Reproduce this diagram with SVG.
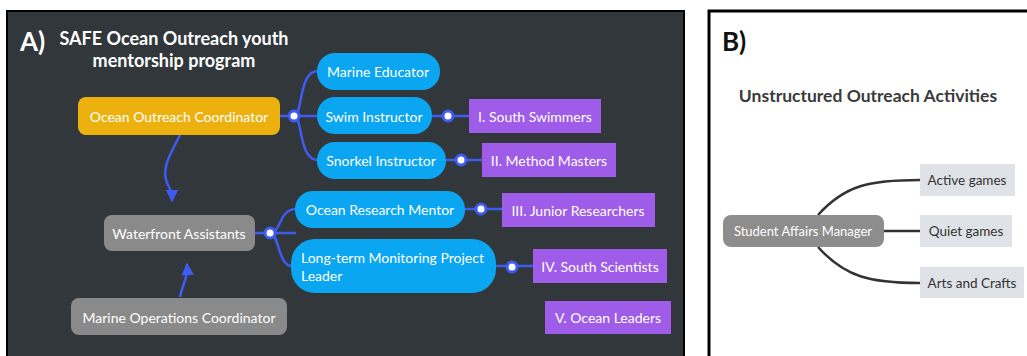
<svg xmlns="http://www.w3.org/2000/svg" width="1027" height="356" viewBox="0 0 1027 356">
<style>
text{font-family:Lato,"Noto Sans","Liberation Sans",sans-serif;}
.t{font-size:14px;fill:#ffffff;text-anchor:middle;dominant-baseline:central;}
.pill{fill:#0aa6f2;}
.purp{fill:#9e5ce8;}
.grey{fill:#8a8a8a;}
.bl{fill:none;stroke:#3f5cf2;stroke-width:2.5;}
.dot{fill:#ffffff;stroke:#3f5cf2;stroke-width:3;}
.dk{fill:none;stroke:#333333;stroke-width:2.5;}
.lb{fill:#dfe3e8;}
.tb{font-size:13.5px;fill:#333333;text-anchor:middle;dominant-baseline:central;}
</style>
<defs>
<marker id="ah" viewBox="0 0 10 10" refX="9" refY="5" markerWidth="5" markerHeight="5" orient="auto">
<path d="M0,0 L10,5 L0,10 z" fill="#3f5cf2"/>
</marker>
</defs>
<rect x="0" y="0" width="1027" height="356" fill="#ffffff"/>
<g id="panelA">
<rect x="7" y="11" width="677" height="350" fill="#32373c" stroke="#000000" stroke-width="2"/>
<text x="20" y="51" style="font-size:26px;font-weight:bold;fill:#ffffff">A)</text>
<text x="174" y="45" style="font-size:18px;font-weight:bold;fill:#ffffff;text-anchor:middle">SAFE Ocean Outreach youth</text>
<text x="174" y="67" style="font-size:18px;font-weight:bold;fill:#ffffff;text-anchor:middle">mentorship program</text>
</g>
<g id="panelB">
<rect x="709" y="11" width="330" height="360" fill="#ffffff" stroke="#000000" stroke-width="3"/>
<text x="722" y="51" style="font-size:26px;font-weight:bold;fill:#111111">B)</text>
<text x="868" y="102" style="font-size:17.5px;font-weight:bold;fill:#3a3a3a;text-anchor:middle">Unstructured Outreach Activities</text>
</g>
<g id="connectors">
<path class="bl" d="M180,135 C170,155 160,170 168,185 C172,192 172,196 172,201" marker-end="url(#ah)"/>
<path class="bl" d="M180,297 C182,285 188,280 187,264" marker-end="url(#ah)"/>
<path class="bl" d="M280,116 L318,116"/>
<path class="bl" d="M294,116 C303,116 298,71 318,71"/>
<path class="bl" d="M294,116 C303,116 298,160 318,160"/>
<path class="bl" d="M432,116 L469,116"/>
<path class="bl" d="M446,160 L482,160"/>
<path class="bl" d="M255,233 L296,233"/>
<path class="bl" d="M270,233 C281,233 279,209 296,209"/>
<path class="bl" d="M270,233 C279,233 278,266 292,266"/>
<path class="bl" d="M465,209 L502,209"/>
<path class="bl" d="M496,266 L533,266"/>
<path class="dk" d="M818,215 C845,185 870,180 920,180"/>
<path class="dk" d="M884,231 L920,231"/>
<path class="dk" d="M818,247 C845,277 870,283 920,283"/>
<circle class="dot" cx="294" cy="116" r="5"/>
<circle class="dot" cx="448" cy="116" r="5"/>
<circle class="dot" cx="461" cy="160" r="5"/>
<circle class="dot" cx="270" cy="233" r="5"/>
<circle class="dot" cx="481" cy="209" r="5"/>
<circle class="dot" cx="512" cy="267" r="5"/>
</g>
<g id="ocean-outreach-coordinator">
<rect x="78" y="97" width="202" height="38" rx="8" fill="#ecb10f"/>
<text class="t" x="179" y="116">Ocean Outreach Coordinator</text>
</g>
<g id="marine-educator">
<rect class="pill" x="317" y="53" width="123" height="37" rx="18"/>
<text class="t" x="378" y="71">Marine Educator</text>
</g>
<g id="swim-instructor">
<rect class="pill" x="317" y="97" width="115" height="37" rx="18"/>
<text class="t" x="374" y="116">Swim Instructor</text>
</g>
<g id="snorkel-instructor">
<rect class="pill" x="317" y="142" width="129" height="37" rx="18"/>
<text class="t" x="381" y="160">Snorkel Instructor</text>
</g>
<g id="south-swimmers">
<rect class="purp" x="469" y="99" width="132" height="34"/>
<text class="t" x="535" y="116">I. South Swimmers</text>
</g>
<g id="method-masters">
<rect class="purp" x="482" y="143" width="134" height="34"/>
<text class="t" x="549" y="160">II. Method Masters</text>
</g>
<g id="waterfront-assistants">
<rect class="grey" x="104" y="215" width="151" height="36" rx="8"/>
<text class="t" x="179" y="233">Waterfront Assistants</text>
</g>
<g id="ocean-research-mentor">
<rect class="pill" x="295" y="191" width="170" height="37" rx="18"/>
<text class="t" x="380" y="209">Ocean Research Mentor</text>
</g>
<g id="long-term-leader">
<rect class="pill" x="291" y="239" width="205" height="54" rx="24"/>
<text class="t" x="301" y="257" style="text-anchor:start">Long-term Monitoring Project</text>
<text class="t" x="301" y="275" style="text-anchor:start">Leader</text>
</g>
<g id="junior-researchers">
<rect class="purp" x="502" y="193" width="153" height="34"/>
<text class="t" x="578" y="210">III. Junior Researchers</text>
</g>
<g id="south-scientists">
<rect class="purp" x="533" y="249" width="134" height="34"/>
<text class="t" x="600" y="266">IV. South Scientists</text>
</g>
<g id="ocean-leaders">
<rect class="purp" x="545" y="301" width="126" height="33"/>
<text class="t" x="608" y="317">V. Ocean Leaders</text>
</g>
<g id="marine-operations-coordinator">
<rect class="grey" x="71" y="298" width="216" height="37" rx="8"/>
<text class="t" x="179" y="317">Marine Operations Coordinator</text>
</g>
<g id="student-affairs-manager">
<rect x="723" y="215" width="161" height="32" rx="8" fill="#8d8d8d"/>
<text class="t" x="803" y="231" style="font-size:13px">Student Affairs Manager</text>
</g>
<g id="active-games">
<rect class="lb" x="920" y="164" width="95" height="32"/>
<text class="tb" x="967" y="180">Active games</text>
</g>
<g id="quiet-games">
<rect class="lb" x="920" y="215" width="92" height="32"/>
<text class="tb" x="966" y="231">Quiet games</text>
</g>
<g id="arts-and-crafts">
<rect class="lb" x="920" y="267" width="104" height="31"/>
<text class="tb" x="972" y="283">Arts and Crafts</text>
</g>
</svg>
